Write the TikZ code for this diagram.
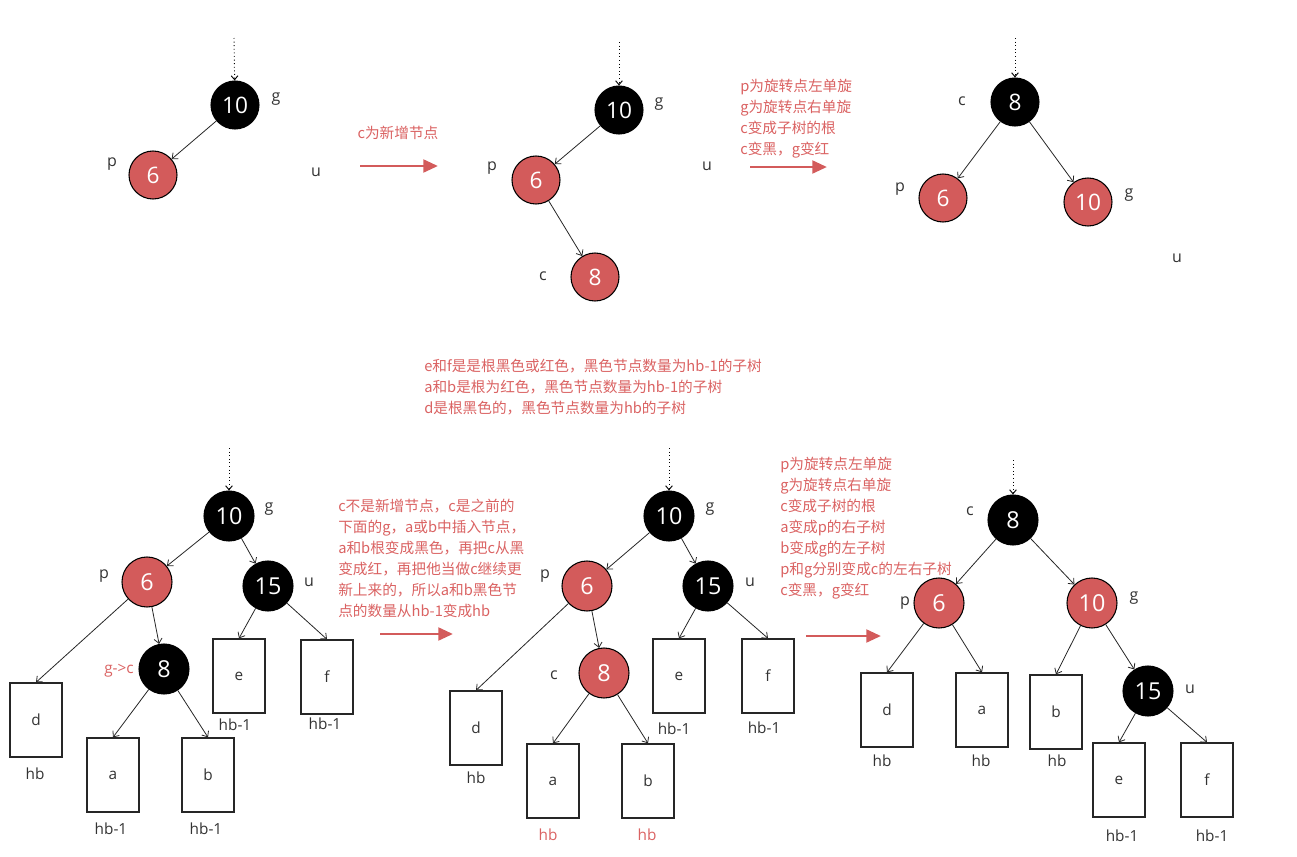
\documentclass[tikz,border=0pt]{standalone}
\usepackage{fontspec}
\setmainfont{Open Sans}
\newfontfamily\cjk{Noto Sans CJK SC}
\usetikzlibrary{arrows.meta}
\definecolor{rbred}{HTML}{D35B5B}
\definecolor{txtred}{HTML}{DA6262}
\definecolor{lblgray}{HTML}{333333}
\begin{document}
\begin{tikzpicture}[x=0.75pt,y=-0.75pt,
  bnode/.style={circle,fill=black,draw=black,line width=0.8pt,minimum size=36pt,inner sep=0pt,text=white,font=\fontsize{17}{19}\selectfont},
  rnode/.style={bnode,fill=rbred},
  big/.style={minimum size=37.5pt,font=\fontsize{17.5}{19}\selectfont},
  lbl/.style={inner sep=0pt,text=lblgray,font=\fontsize{12}{13}\selectfont},
  hlbl/.style={inner sep=0pt,text=lblgray,font=\fontsize{11.5}{13}\selectfont},
  rlbl/.style={hlbl,text=txtred},
  subtree/.style={draw=black!85,line width=1pt,minimum width=39pt,minimum height=55.5pt,inner sep=0pt,text=lblgray,font=\fontsize{11.5}{13}\selectfont},
  edge/.style={-{Straight Barb[length=3.5pt,width=6pt]},line width=0.6pt,draw=black!85},
  dotarrow/.style={dotted,line width=0.7pt,-{Straight Barb[length=3pt,width=5pt]}},
  bigarrow/.style={-{Triangle[length=11pt,width=9.5pt]},line width=2.2pt,draw=rbred},
  note/.style={text=txtred,font=\cjk\fontsize{11}{15.75}\selectfont,align=left,anchor=north west,inner sep=0pt}
]
\useasboundingbox (0,0) rectangle (1297,857);

% ---------- top-left ----------
\coordinate (Atop) at (234,38);
\node[bnode] (A10) at (235,105) {10};
\node[rnode] (A6) at (153,175) {6};
\node[lbl] (Ag) at (276,99) {g};
\node[lbl] (Ap) at (112,164) {p};
\node[lbl] (Au) at (316,172) {u};
\draw[dotarrow] (Atop) -- (A10);
\draw[edge] (A10) -- (A6);
\coordinate (AR1) at (360,166);
\coordinate (AR2) at (438,166);
\draw[bigarrow] (AR1) -- (AR2);
\node[text=txtred,font=\cjk\fontsize{11}{15.75}\selectfont,inner sep=0pt] (Anote) at (398,133) {c为新增节点};

% ---------- top-middle ----------
\coordinate (Btop) at (619,42);
\node[bnode] (B10) at (619,110) {10};
\node[rnode] (B6) at (536,180) {6};
\node[rnode] (B8) at (595,277) {8};
\node[lbl] (Bg) at (659,104) {g};
\node[lbl] (Bp) at (492,168) {p};
\node[lbl] (Bc) at (543,276) {c};
\node[lbl] (Bu) at (707,166) {u};
\draw[dotarrow] (Btop) -- (B10);
\draw[edge] (B10) -- (B6);
\draw[edge] (B6) -- (B8);
\coordinate (BR1) at (750,167);
\coordinate (BR2) at (827,167);
\draw[bigarrow] (BR1) -- (BR2);
\node[note] (Bnote) at (740,79) {p为旋转点左单旋\\g为旋转点右单旋\\c变成子树的根\\c变黑，g变红};

% ---------- top-right ----------
\coordinate (Ctop) at (1015,38);
\node[bnode] (C8) at (1015,102) {8};
\node[rnode] (C6) at (943,198) {6};
\node[rnode] (C10) at (1088,202) {10};
\node[lbl] (Cc) at (962,101) {c};
\node[lbl] (Cp) at (900,189) {p};
\node[lbl] (Cg) at (1129,195) {g};
\node[lbl] (Cu) at (1177,258) {u};
\draw[dotarrow] (Ctop) -- (C8);
\draw[edge] (C8) -- (C6);
\draw[edge] (C8) -- (C10);

% ---------- middle note ----------
\node[note] (Mnote) at (424,359) {e和f是是根黑色或红色，黑色节点数量为hb-1的子树\\a和b是根为红色，黑色节点数量为hb-1的子树\\d是根黑色的，黑色节点数量为hb的子树};

% ---------- bottom-left ----------
\coordinate (Dtop) at (229,448);
\node[bnode,big] (D10) at (229,516) {10};
\node[rnode,big] (D6) at (147,582) {6};
\node[bnode,big] (D15) at (268,586) {15};
\node[bnode,big] (D8) at (164,669) {8};
\node[lbl] (Dg) at (269,509) {g};
\node[lbl] (Dp) at (104,576) {p};
\node[lbl] (Du) at (309,582) {u};
\node[rlbl] (Dgc) at (119,671) {g->c};
\node[subtree] (Dd) at (36,720) {d};
\node[subtree] (Da) at (113,775) {a};
\node[subtree] (Db) at (208,775) {b};
\node[subtree] (De) at (239,676) {e};
\node[subtree] (Df) at (327,677) {f};
\node[hlbl] (Ddh) at (35,774) {hb};
\node[hlbl] (Dah) at (111,829) {hb-1};
\node[hlbl] (Dbh) at (206,829) {hb-1};
\node[hlbl] (Deh) at (235,725) {hb-1};
\node[hlbl] (Dfh) at (325,724) {hb-1};
\draw[dotarrow] (Dtop) -- (D10);
\draw[edge] (D10) -- (D6);
\draw[edge] (D10) -- (D15);
\draw[edge] (D6) -- (Dd.north);
\draw[edge] (D6) -- (D8);
\draw[edge] (D8) -- (Da.north);
\draw[edge] (D8) -- (Db.north);
\draw[edge] (D15) -- (De.north);
\draw[edge] (D15) -- (Df.north);
\coordinate (DR1) at (380,634);
\coordinate (DR2) at (453,634);
\draw[bigarrow] (DR1) -- (DR2);
\node[note] (Dnote) at (338,499) {c不是新增节点，c是之前的\\下面的g，a或b中插入节点，\\a和b根变成黑色，再把c从黑\\变成红，再把他当做c继续更\\新上来的，所以a和b黑色节\\点的数量从hb-1变成hb};

% ---------- bottom-middle ----------
\coordinate (Etop) at (669,448);
\node[bnode,big] (E10) at (669,516) {10};
\node[rnode,big] (E6) at (587,586) {6};
\node[bnode,big] (E15) at (708,586) {15};
\node[rnode,big] (E8) at (604,673) {8};
\node[lbl] (Eg) at (710,509) {g};
\node[lbl] (Ep) at (545,576) {p};
\node[lbl] (Eu) at (750,582) {u};
\node[lbl] (Ec) at (554,675) {c};
\node[subtree] (Ed) at (476,728) {d};
\node[subtree] (Ea) at (553,781) {a};
\node[subtree] (Eb) at (648,781) {b};
\node[subtree] (Ee) at (679,676) {e};
\node[subtree] (Ef) at (768,676) {f};
\node[hlbl] (Edh) at (476,778) {hb};
\node[rlbl] (Eah) at (548,835) {hb};
\node[rlbl] (Ebh) at (647,835) {hb};
\node[hlbl] (Eeh) at (674,729) {hb-1};
\node[hlbl] (Efh) at (764,728) {hb-1};
\draw[dotarrow] (Etop) -- (E10);
\draw[edge] (E10) -- (E6);
\draw[edge] (E10) -- (E15);
\draw[edge] (E6) -- (Ed.north);
\draw[edge] (E6) -- (E8);
\draw[edge] (E8) -- (Ea.north);
\draw[edge] (E8) -- (Eb.north);
\draw[edge] (E15) -- (Ee.north);
\draw[edge] (E15) -- (Ef.north);
\coordinate (ER1) at (806,636);
\coordinate (ER2) at (881,636);
\draw[bigarrow] (ER1) -- (ER2);
\node[note] (Enote) at (780,457) {p为旋转点左单旋\\g为旋转点右单旋\\c变成子树的根\\a变成p的右子树\\b变成g的左子树\\p和g分别变成c的左右子树\\c变黑，g变红};

% ---------- bottom-right ----------
\coordinate (Ftop) at (1013,460);
\node[bnode,big] (F8) at (1013,520) {8};
\node[rnode,big] (F6) at (939,603) {6};
\node[rnode,big] (F10) at (1092,603) {10};
\node[bnode,big] (F15) at (1148,691) {15};
\node[lbl] (Fc) at (970,511) {c};
\node[lbl] (Fp) at (905,603) {p};
\node[lbl] (Fg) at (1134,598) {g};
\node[lbl] (Fu) at (1190,689) {u};
\node[subtree] (Fd) at (887,710) {d};
\node[subtree] (Fa) at (982,710) {a};
\node[subtree] (Fb) at (1056,712) {b};
\node[subtree] (Fe) at (1119,780) {e};
\node[subtree] (Ff) at (1207,780) {f};
\node[hlbl] (Fdh) at (882,761) {hb};
\node[hlbl] (Fah) at (981,761) {hb};
\node[hlbl] (Fbh) at (1057,761) {hb};
\node[hlbl] (Feh) at (1122,836) {hb-1};
\node[hlbl] (Ffh) at (1212,836) {hb-1};
\draw[dotarrow] (Ftop) -- (F8);
\draw[edge] (F8) -- (F6);
\draw[edge] (F8) -- (F10);
\draw[edge] (F6) -- (Fd.north);
\draw[edge] (F6) -- (Fa.north);
\draw[edge] (F10) -- (Fb.north);
\draw[edge] (F10) -- (F15);
\draw[edge] (F15) -- (Fe.north);
\draw[edge] (F15) -- (Ff.north);
\end{tikzpicture}
\end{document}
